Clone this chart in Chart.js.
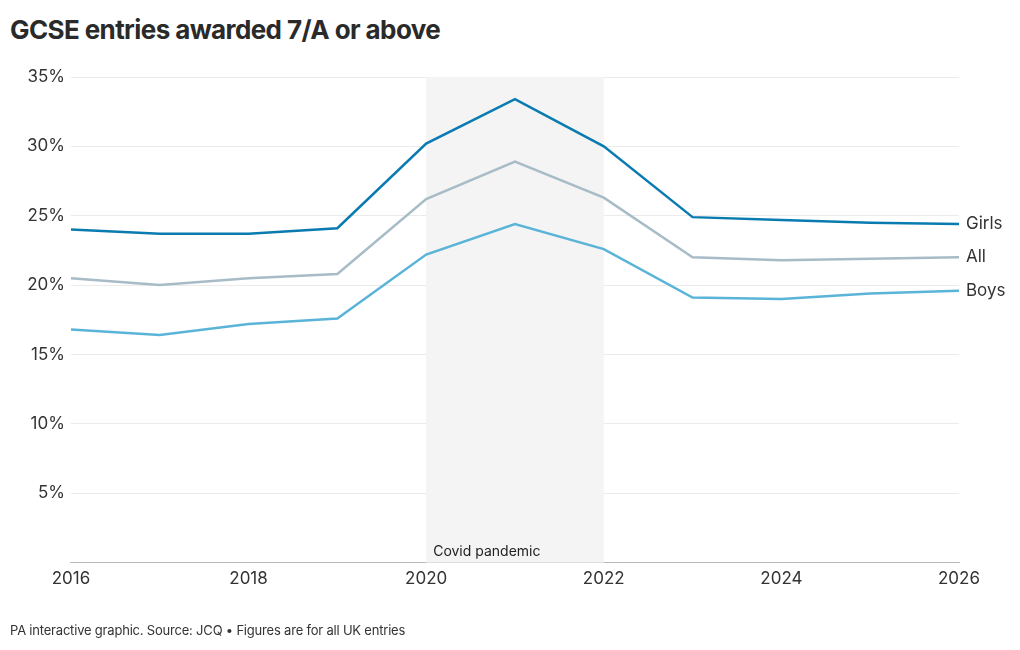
<!DOCTYPE html>
<html>
<head>
<meta charset="utf-8">
<script src="https://cdn.jsdelivr.net/npm/chart.js@4"></script>
<style>
  body { margin: 0; background: #fff; font-family: Inter, "Noto Sans", sans-serif; }
  #wrap { position: relative; width: 1020px; height: 650px; }
  h1 { position: absolute; left: 10px; top: 14px; margin: 0; font-size: 26px; font-weight: 700; color: #2a2a2a; letter-spacing: -0.6px; }
  #foot { position: absolute; left: 10px; top: 622px; font-size: 13px; color: #333; letter-spacing: -0.2px; }
  canvas { position: absolute; left: 0; top: 0; }
</style>
</head>
<body>
<div id="wrap">
  <h1>GCSE entries awarded 7/A or above</h1>
  <canvas id="chart" width="1020" height="650"></canvas>
  <div id="foot">PA interactive graphic. Source: JCQ • Figures are for all UK entries</div>
</div>
<script>
var years = [2016, 2017, 2018, 2019, 2020, 2021, 2022, 2023, 2024, 2025, 2026];
var girls = [24.0, 23.7, 23.7, 24.1, 30.2, 33.4, 30.0, 24.9, 24.7, 24.5, 24.4];
var all = [20.5, 20.0, 20.5, 20.8, 26.2, 28.9, 26.3, 22.0, 21.8, 21.9, 22.0];
var boys = [16.8, 16.4, 17.2, 17.6, 22.2, 24.4, 22.6, 19.1, 19.0, 19.4, 19.6];
var covidStart = 2020, covidEnd = 2022;

function pts(vals) {
  return vals.map(function(v, i) { return { x: years[i], y: v }; });
}

var covidBand = {
  id: 'covidBand',
  beforeDatasetsDraw: function(chart) {
    var ctx = chart.ctx, x = chart.scales.x, area = chart.chartArea;
    var x0 = x.getPixelForValue(covidStart), x1 = x.getPixelForValue(covidEnd);
    ctx.save();
    ctx.fillStyle = '#f4f4f4';
    ctx.fillRect(x0, area.top, x1 - x0, area.bottom - area.top);
    ctx.fillStyle = '#222';
    ctx.font = '14px Inter, "Noto Sans", sans-serif';
    ctx.textBaseline = 'bottom';
    ctx.fillText('Covid pandemic', x0 + 7, area.bottom - 4);
    ctx.restore();
  }
};

var endLabels = {
  id: 'endLabels',
  afterDatasetsDraw: function(chart) {
    var ctx = chart.ctx;
    ctx.save();
    ctx.font = '17px Inter, "Noto Sans", sans-serif';
    ctx.fillStyle = '#333';
    ctx.textBaseline = 'middle';
    chart.data.datasets.forEach(function(ds, i) {
      var meta = chart.getDatasetMeta(i);
      var last = meta.data[meta.data.length - 1];
      ctx.fillText(ds.label, last.x + 7, last.y);
    });
    ctx.restore();
  }
};

new Chart(document.getElementById('chart'), {
  type: 'line',
  data: {
    datasets: [
      { label: 'Girls', data: pts(girls), borderColor: '#0a7bb0', borderWidth: 2.5 },
      { label: 'All', data: pts(all), borderColor: '#a7bcc7', borderWidth: 2.5 },
      { label: 'Boys', data: pts(boys), borderColor: '#5ab4d8', borderWidth: 2.5 }
    ]
  },
  options: {
    responsive: false,
    animation: false,
    elements: { point: { radius: 0 }, line: { tension: 0 } },
    layout: { padding: { left: 21, right: 61, top: 77, bottom: 55 } },
    plugins: { legend: { display: false }, tooltip: { enabled: false } },
    scales: {
      x: {
        type: 'linear', min: 2016, max: 2026,
        grid: { display: false, drawTicks: false },
        border: { color: '#bbb' },
        ticks: { stepSize: 2, color: '#333', font: { size: 17, family: 'Inter' }, padding: 6,
          callback: function(v) { return String(v); } }
      },
      y: {
        min: 0, max: 35,
        grid: { color: '#ebebeb', drawTicks: false },
        border: { display: false },
        ticks: { stepSize: 5, color: '#333', font: { size: 17, family: 'Inter' }, padding: 6,
          callback: function(v) { return v === 0 ? '' : v + '%'; } }
      }
    }
  },
  plugins: [covidBand, endLabels]
});
</script>
</body>
</html>
